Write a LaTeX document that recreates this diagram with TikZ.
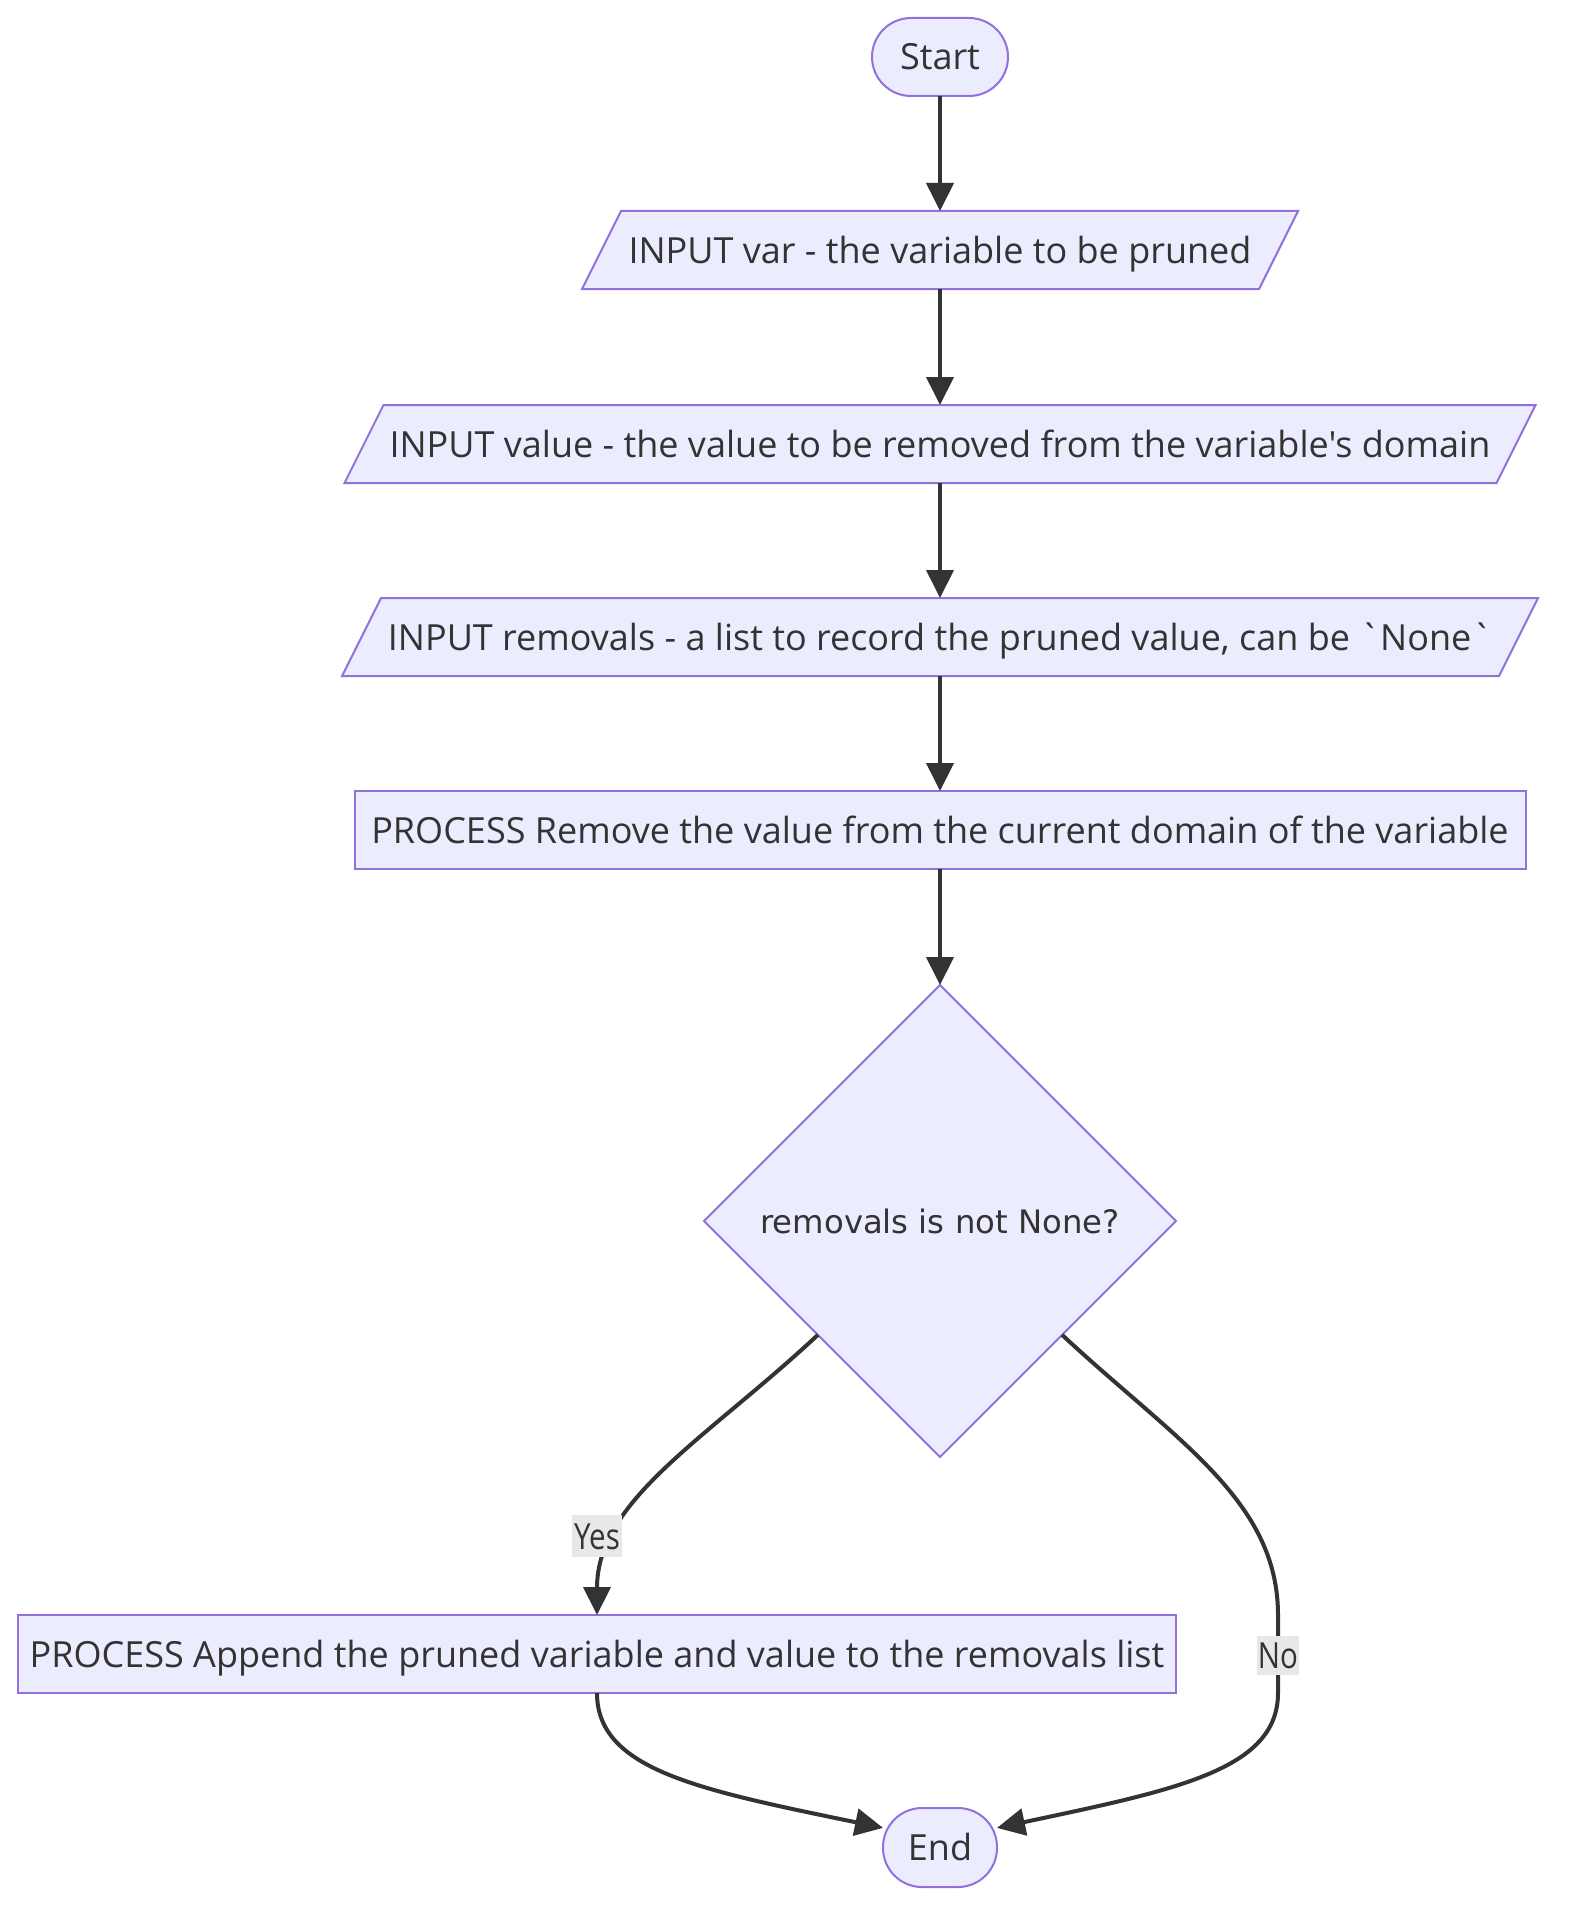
\documentclass[tikz,border=0pt]{standalone}
\usepackage{fontspec}
\setmainfont{Open Sans}[Ligatures=TeXOff]
\newfontfamily\decfont{DejaVu Sans}
\newfontfamily\lblfont{Open Sans}[FakeStretch=0.82]
\usetikzlibrary{shapes.geometric,arrows.meta}
\definecolor{nodefill}{HTML}{ECECFF}
\definecolor{nodeline}{HTML}{9370DB}
\definecolor{ink}{HTML}{333333}
\definecolor{lblbg}{HTML}{E8E8E8}
\pgfdeclarelayer{bg}
\pgfsetlayers{bg,main}
\begin{document}
\begin{tikzpicture}[x=1pt,y=-1pt,
  base/.style={inner sep=0pt, outer sep=0pt, text=ink,
    font=\fontsize{36}{44}\selectfont, text height=26pt, text depth=0pt,
    minimum height=78pt},
  term/.style={base, draw=nodeline, fill=nodefill, line width=2pt, rounded corners=39pt},
  proc/.style={base, draw=nodeline, fill=nodefill, line width=2pt},
  io/.style={base},
  iobox/.style={draw=nodeline, fill=nodefill, line width=2pt, line join=miter},
  decision/.style={diamond, draw=nodeline, fill=nodefill, line width=2pt,
    inner sep=0pt, outer sep=0pt, minimum width=472pt, minimum height=472pt,
    text=ink, font=\decfont\fontsize{32.3}{38}\selectfont},
  flow/.style={draw=ink, line width=4pt, -{Triangle[length=28pt,width=27pt]}},
  lbl/.style={fill=lblbg, inner sep=0pt, text=ink,
    font=\lblfont\fontsize{36}{44}\selectfont, text height=26pt, text depth=0pt}
]
\useasboundingbox (0,0) rectangle (1568,1926);

% nodes
\node[term, minimum width=136pt] (start) at (940,57) {Start};
\node[io, minimum width=677pt] (var) at (940,250) {INPUT var - the variable to be pruned};
\node[io, minimum width=1152pt] (val) at (940,444) {INPUT value - the value to be removed from the variable's domain};
\node[io, minimum width=1157pt] (rem) at (940,637) {INPUT removals - a list to record the pruned value, can be `None`};
\node[proc, minimum width=1171pt] (remove) at (940,830) {PROCESS Remove the value from the current domain of the variable};
\node[decision] (dec) at (940,1221) {removals is not None?};
\node[proc, minimum width=1158pt] (app) at (597,1654) {PROCESS Append the pruned variable and value to the removals list};
\node[term, minimum width=114pt, minimum height=79pt] (end) at (940,1847.5) {End};

% input parallelograms behind their texts
\begin{pgfonlayer}{bg}
\foreach \n in {var,val,rem}
  \draw[iobox] ([xshift=-19.5pt]\n.south west) -- ([xshift=19.5pt]\n.north west)
    -- ([xshift=19.5pt]\n.north east) -- ([xshift=-19.5pt]\n.south east) -- cycle;
\end{pgfonlayer}

% connectors
\draw[flow] (start.south) -- (var.north);
\draw[flow] (var.south) -- (val.north);
\draw[flow] (val.south) -- (rem.north);
\draw[flow] (rem.south) -- (remove.north);
\draw[flow] (remove.south) -- (dec.north);
\draw[flow] (dec.-137) .. controls (705,1440) and (597,1500) .. (app.north);
\coordinate (nodown) at (1278,1615);
\coordinate (noup) at (1278,1693);
\draw[flow] (dec.-43) .. controls (1175,1440) and (1278,1500) .. (nodown)
  -- (noup) .. controls (1278,1770) and (1175,1790) .. (end.19);
\draw[flow] (app.south) .. controls (597,1770) and (700,1790) .. (end.161);

% edge labels
\node[lbl, minimum width=50pt, minimum height=42pt] (yes) at (597,1536) {Yes};
\node[lbl, minimum width=42pt, minimum height=39pt] (no) at (1278,1655) {No};
\end{tikzpicture}
\end{document}
